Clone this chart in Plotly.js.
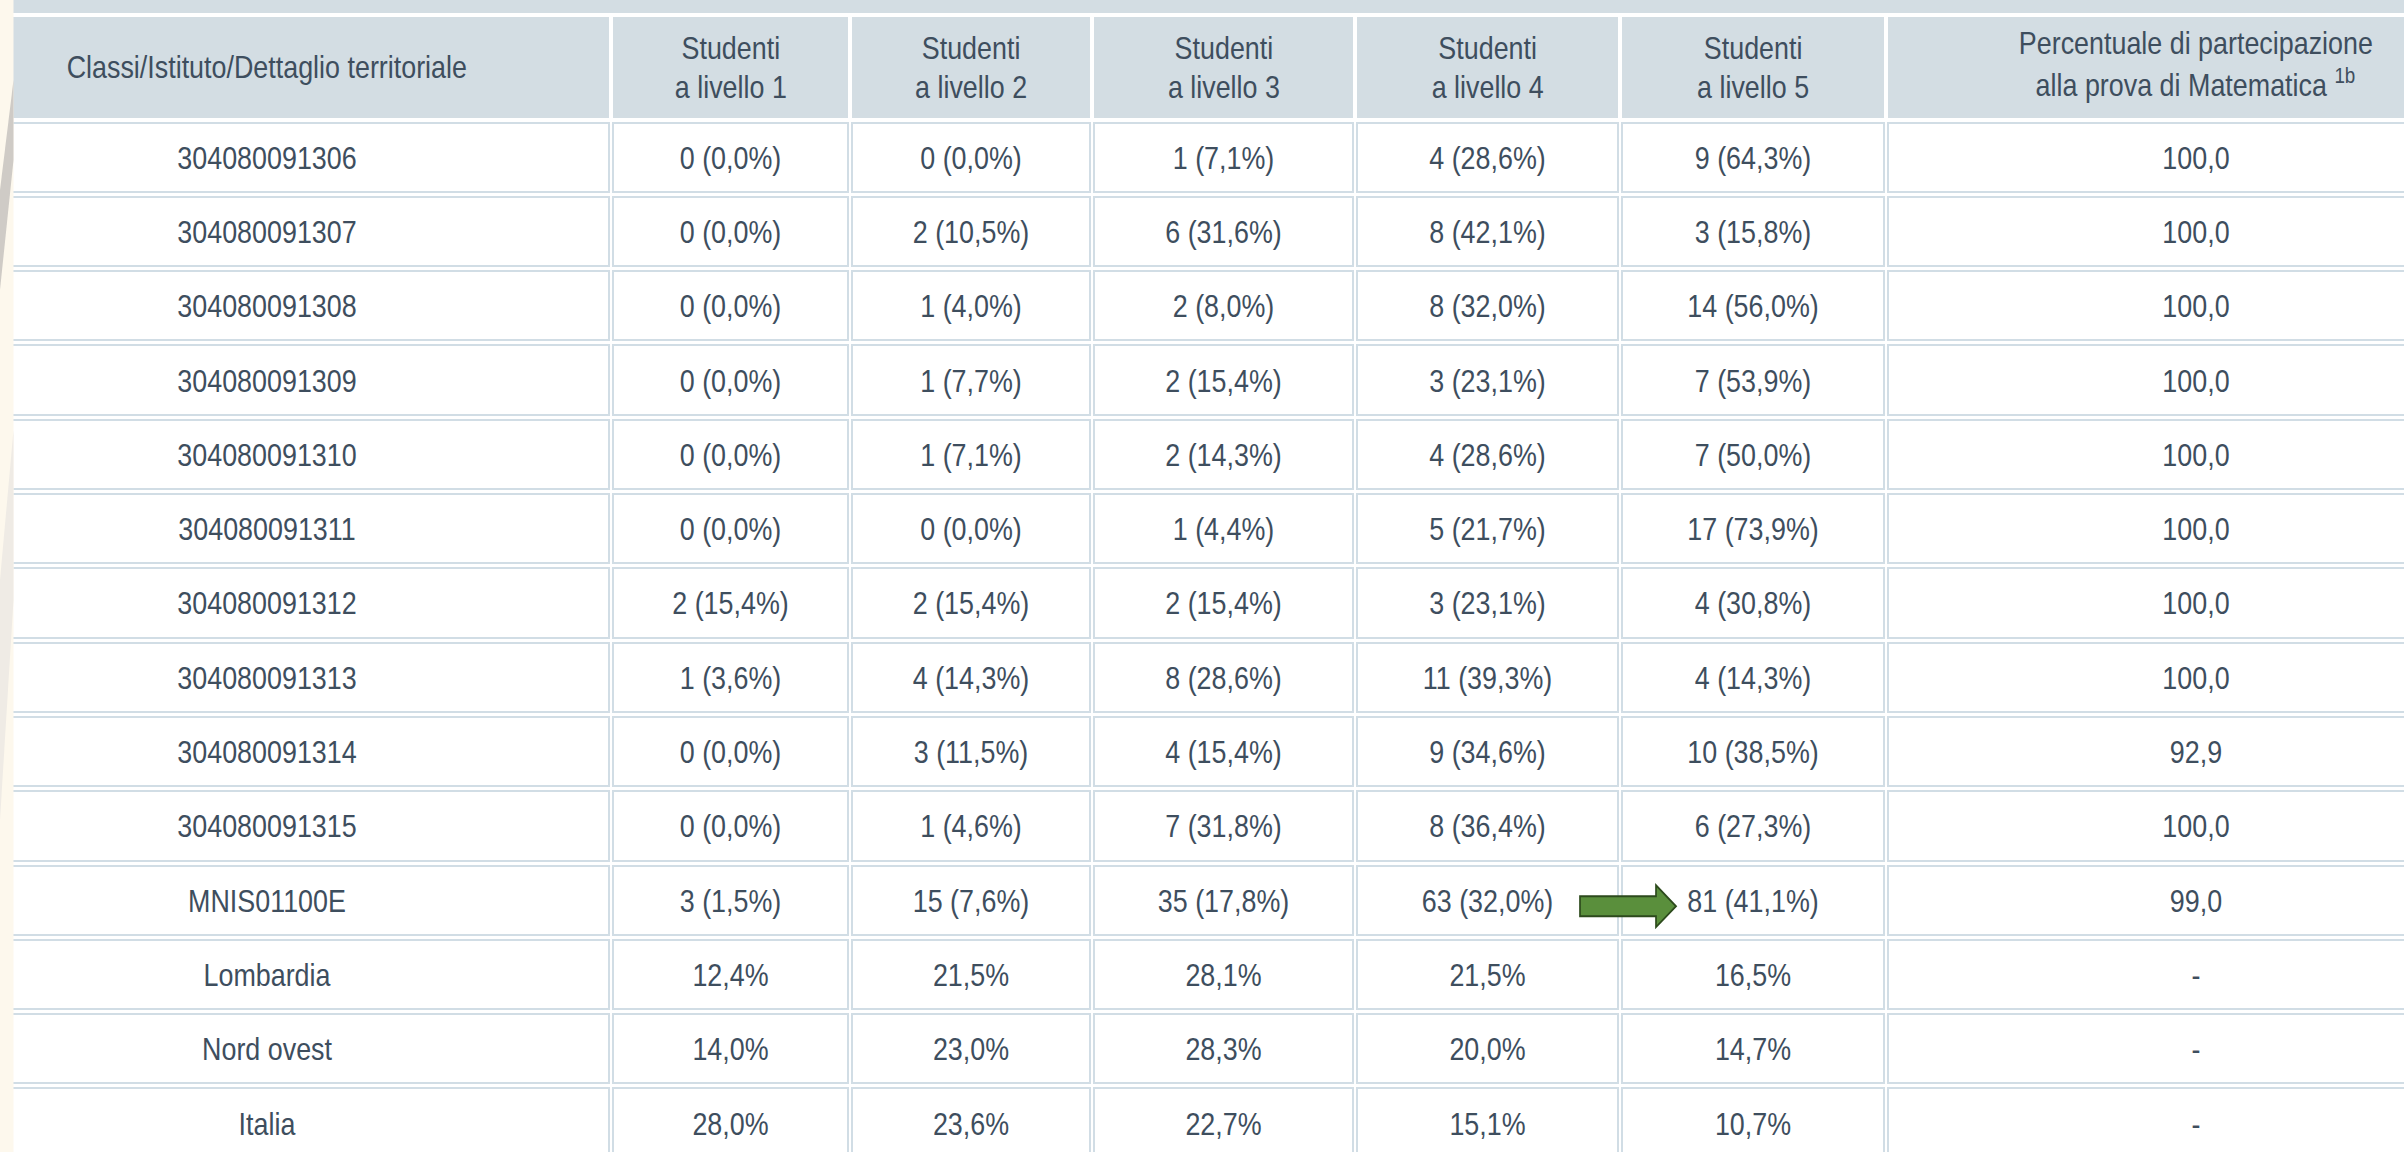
<!DOCTYPE html>
<html>
<head>
<meta charset="utf-8">
<script src="https://cdn.plot.ly/plotly-3.0.1.min.js"></script>
<style>
html,body{margin:0;padding:0;overflow:hidden;background:#ffffff;width:2404px;height:1152px}
#chart{position:absolute;left:-77px;top:0;height:1200px;transform-origin:0 0}
</style>
</head>
<body>
<div id="chart"></div>
<script>
// ---------------- data ----------------
const classi = ["304080091306","304080091307","304080091308","304080091309","304080091310",
  "304080091311","304080091312","304080091313","304080091314","304080091315",
  "MNIS01100E","Lombardia","Nord ovest","Italia"];
const n1 = [0,0,0,0,0,0,2,1,0,0,3,null,null,null];
const p1 = [0.0,0.0,0.0,0.0,0.0,0.0,15.4,3.6,0.0,0.0,1.5,12.4,14.0,28.0];
const n2 = [0,2,1,1,1,0,2,4,3,1,15,null,null,null];
const p2 = [0.0,10.5,4.0,7.7,7.1,0.0,15.4,14.3,11.5,4.6,7.6,21.5,23.0,23.6];
const n3 = [1,6,2,2,2,1,2,8,4,7,35,null,null,null];
const p3 = [7.1,31.6,8.0,15.4,14.3,4.4,15.4,28.6,15.4,31.8,17.8,28.1,28.3,22.7];
const n4 = [4,8,8,3,4,5,3,11,9,8,63,null,null,null];
const p4 = [28.6,42.1,32.0,23.1,28.6,21.7,23.1,39.3,34.6,36.4,32.0,21.5,20.0,15.1];
const n5 = [9,3,14,7,7,17,4,4,10,6,81,null,null,null];
const p5 = [64.3,15.8,56.0,53.9,50.0,73.9,30.8,14.3,38.5,27.3,41.1,16.5,14.7,10.7];
const partecipazione = [100.0,100.0,100.0,100.0,100.0,100.0,100.0,100.0,92.9,100.0,99.0,null,null,null];
const headerLine1 = ["Classi/Istituto/Dettaglio territoriale","Studenti","Studenti","Studenti",
  "Studenti","Studenti","Percentuale di partecipazione"];
const headerLine2 = ["","a livello 1","a livello 2","a livello 3","a livello 4","a livello 5",
  "alla prova di Matematica <sup>1b</sup>"];
const highlightRow = "MNIS01100E";

// ---------------- geometry / style ----------------
const K = 0.84;                 // horizontal compression of the original screenshot
const W = 2583, H = 1200, MT = 15, OFFSET_X = 77;
const plotH = H - MT;
const colPx = [688,239,242,263,265,266,620];
const HEADER_H = 105, ROW_H = 74.3;
const TEXT_SHIFT = 8, TEXT_HEADER_H = 113.6;
const HEAD_FILL = '#d3dde3', BORDER = '#d1dde5', TXT = '#3e4e5e';
const FONT = "'Liberation Sans',Arial,sans-serif";
const FS = 32;

const fmt = v => v.toFixed(1).replace('.', ',');
const cellTxt = (n, p) => n === null ? fmt(p) + '%' : n + ' (' + fmt(p) + '%)';
const col = (ns, ps) => ns.map((n, i) => cellTxt(n, ps[i]));
const partCol = partecipazione.map(v => v === null ? '-' : fmt(v));

const values = [classi, col(n1,p1), col(n2,p2), col(n3,p3), col(n4,p4), col(n5,p5), partCol];
const emptyVals = values.map(c => c.map(() => ' '));
const emptyHead = headerLine1.map(() => ' ');

const traceA = {
  type: 'table', columnwidth: colPx, domain: {x: [0, 1], y: [0, 1]},
  header: {values: emptyHead, height: HEADER_H, fill: {color: HEAD_FILL}, line: {color: HEAD_FILL, width: 1}},
  cells: {values: emptyVals, height: ROW_H, fill: {color: '#ffffff'}, line: {color: BORDER, width: 7}}
};
const traceB = {
  type: 'table', columnwidth: colPx, domain: {x: [0, 1], y: [0, 1]},
  header: {values: emptyHead, height: HEADER_H, fill: {color: 'rgba(0,0,0,0)'}, line: {color: '#ffffff', width: 4}},
  cells: {values: emptyVals, height: ROW_H, fill: {color: 'rgba(0,0,0,0)'}, line: {color: '#ffffff', width: 3}}
};
const traceC = {
  type: 'table', columnwidth: colPx, domain: {x: [0, 1], y: [0, 1 - TEXT_SHIFT / plotH]},
  header: {values: emptyHead, height: TEXT_HEADER_H, align: 'center',
    fill: {color: 'rgba(0,0,0,0)'}, line: {color: 'rgba(0,0,0,0)', width: 0},
    font: {family: FONT, size: FS, color: TXT}},
  cells: {values: values, height: ROW_H, align: 'center',
    fill: {color: 'rgba(0,0,0,0)'}, line: {color: 'rgba(0,0,0,0)', width: 0},
    font: {family: FONT, size: FS, color: TXT}}
};

// helpers: screen-px (relative to table left / plot top) -> paper coords
const xp = px => px / W;
const yp = py => 1 - py / plotH;
const colLeft = i => colPx.slice(0, i).reduce((a, b) => a + b, 0);
const colMid = i => colLeft(i) + colPx[i] / 2;

// arrow between "livello 4" and "livello 5" in the highlighted row
const ri = classi.indexOf(highlightRow);
const bx = colLeft(5);
const cy = HEADER_H + (ri + 0.5) * ROW_H + 6;
const arrowPts = [[bx-40,cy-10],[bx+36,cy-10],[bx+36,cy-21],[bx+56,cy],[bx+36,cy+21],[bx+36,cy+10],[bx-40,cy+10]];
const arrowPath = 'M ' + arrowPts.map(p => xp(p[0]) + ',' + yp(p[1])).join(' L ') + ' Z';

// left decorative strip (screen x 0..13)
const sx = s => xp(s + OFFSET_X);
const sy = s => yp(s - MT);
const poly = pts => 'M ' + pts.map(p => sx(p[0]) + ',' + sy(p[1])).join(' L ') + ' Z';

const shapes = [
  {type: 'rect', xref: 'paper', yref: 'paper', x0: sx(0), x1: sx(13.5), y0: sy(1160), y1: sy(0),
   fillcolor: '#fdf8ed', line: {width: 0}, layer: 'above'},
  {type: 'path', xref: 'paper', yref: 'paper', path: poly([[13.5,80],[13.5,160],[0,290],[0,190]]),
   fillcolor: '#cfcbc6', line: {width: 0}, layer: 'above'},
  {type: 'path', xref: 'paper', yref: 'paper', path: poly([[13.5,430],[13.5,600],[0,820],[0,580]]),
   fillcolor: '#efebe5', line: {width: 0}, layer: 'above'},
  {type: 'path', xref: 'paper', yref: 'paper', path: arrowPath,
   fillcolor: '#5a8f3c', line: {color: '#2c4a1c', width: 2}, layer: 'above'}
];

// header labels (line by line, vertically centred in the header cells)
const annotations = [];
headerLine1.forEach((t, i) => {
  const single = headerLine2[i] === '';
  const isLast = i === headerLine1.length - 1;
  annotations.push({
    xref: 'paper', yref: 'paper', x: xp(colMid(i)), y: yp(single ? 52 : (isLast ? 28 : 33.5)),
    xanchor: 'center', yanchor: 'middle', text: t, showarrow: false,
    font: {family: FONT, size: FS, color: TXT}
  });
  if (!single) annotations.push({
    xref: 'paper', yref: 'paper', x: xp(colMid(i)), y: yp(isLast ? 68 : 72),
    xanchor: 'center', yanchor: 'middle', text: headerLine2[i], showarrow: false,
    font: {family: FONT, size: FS, color: TXT}
  });
});

const layout = {
  width: Math.round(W / K), height: H, margin: {l: 0, r: 0, t: MT, b: 0, pad: 0},
  paper_bgcolor: HEAD_FILL, plot_bgcolor: HEAD_FILL,
  showlegend: false, shapes: shapes, annotations: annotations
};

const el = document.getElementById('chart');
el.style.width = Math.round(W / K) + 'px';
Plotly.newPlot(el, [traceA, traceB, traceC], layout, {staticPlot: true, displayModeBar: false})
  .then(() => { el.style.transform = 'scaleX(' + K + ')'; });
</script>
</body>
</html>
